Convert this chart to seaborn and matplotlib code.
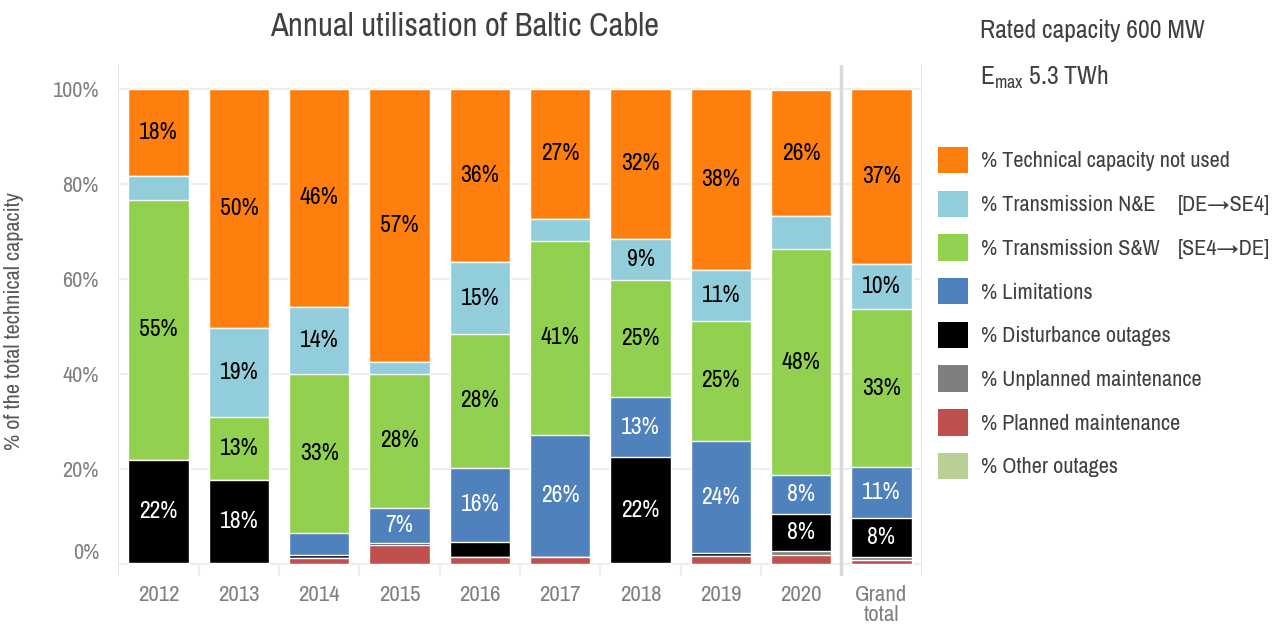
import numpy as np
import pandas as pd
import matplotlib
matplotlib.use("Agg")
import matplotlib.pyplot as plt
import matplotlib.transforms as mtransforms
import seaborn as sns
from matplotlib import font_manager
from matplotlib.patches import Patch

sns.set_theme(style="white")

# look for a narrow face, the reference uses a condensed font
fonts = font_manager.fontManager.ttflist
narrow = None
stretch = "normal"
for f in fonts:
    nm = f.name.lower()
    if "narrow" in nm or "condensed" in nm:
        narrow = f.name
        break
if narrow is None:
    for f in fonts:
        if "condensed" in str(f.stretch).lower() and f.name in ("Noto Sans", "Open Sans", "DejaVu Sans", "Roboto", "Lato", "Inter"):
            narrow = f.name
            stretch = "condensed"
            break
if narrow is None:
    narrow = "Liberation Sans"
plt.rcParams['font.family'] = [narrow, 'DejaVu Sans']
plt.rcParams['font.stretch'] = stretch
plt.rcParams['font.weight'] = 'light'
small = 0 if narrow != "Liberation Sans" else 2

# data (% of technical capacity)
years = ["2012", "2013", "2014", "2015", "2016", "2017", "2018", "2019", "2020", "Grand\ntotal"]
planned = [0.0, 0.0, 1.4, 4.1, 1.5, 1.6, 0.0, 1.75, 2.0, 0.85]
unplanned = [0.2, 0.2, 0.0, 0.0, 0.0, 0.0, 0.2, 0.0, 0.85, 0.7]
disturbance = [21.8, 17.6, 0.6, 0.4, 3.2, 0.0, 22.3, 0.6, 7.7, 8.1]
limitations = [0.0, 0.0, 4.6, 7.4, 15.6, 25.6, 12.6, 23.6, 8.2, 10.8]
trans_sw = [54.6, 13.2, 33.4, 28.1, 28.1, 40.8, 24.6, 25.3, 47.6, 33.2]
trans_ne = [5.1, 18.8, 14.1, 2.6, 15.2, 4.6, 8.7, 10.7, 6.9, 9.6]
other = [0.0] * 10
not_used = [18.3, 50.2, 45.9, 57.4, 36.4, 27.4, 31.6, 38.05, 26.45, 36.75]

# bottom to top
series = [
    ("% Planned maintenance", planned, "#C0504D", "white"),
    ("% Unplanned maintenance", unplanned, "#7F7F7F", "white"),
    ("% Disturbance outages", disturbance, "#000000", "white"),
    ("% Limitations", limitations, "#4F81BD", "white"),
    ("% Transmission S&W", trans_sw, "#92D050", "black"),
    ("% Transmission N&E", trans_ne, "#92CDDC", "black"),
    ("% Other outages", other, "#B8CF95", "black"),
    ("% Technical capacity not used", not_used, "#FF7F0E", "black"),
]

vals = np.array([s[1] for s in series]) / 100.0
cum = vals.cumsum(axis=0)

fig, ax = plt.subplots(figsize=(12.73, 6.25), dpi=100)
fig.subplots_adjust(left=0.093, right=0.724, top=0.896, bottom=0.078)

# stacked bars: draw cumulative totals from the top down
for i in range(len(series) - 1, -1, -1):
    df = pd.DataFrame({"year": years, "value": cum[i]})
    sns.barplot(data=df, x="year", y="value", order=years, color=series[i][2],
                width=0.75, saturation=1, ax=ax, errorbar=None, zorder=2)

# value labels
for i, (name, v, col, tcol) in enumerate(series):
    for j in range(len(years)):
        if v[j] >= 7:
            mid = cum[i][j] - vals[i][j] / 2
            ax.text(j, mid, f"{round(v[j]):.0f}%", ha="center", va="center",
                    color=tcol, fontsize=17 - small, zorder=4)

ax.set_ylim(-0.025, 1.05)
ax.set_xlim(-0.5, 9.5)
ax.set_yticks([0, 0.2, 0.4, 0.6, 0.8, 1.0])
ax.set_yticklabels(["0%", "20%", "40%", "60%", "80%", "100%"])
ax.yaxis.grid(True, color="#eeeeee", linewidth=1.5, zorder=0)
ax.tick_params(axis="y", length=10, color="#eeeeee", width=1.5, labelsize=16 - small, labelcolor="#808080", pad=4)
ax.tick_params(axis="x", length=0, labelsize=16.5 - small, labelcolor="#808080", pad=6)
for lab in ax.get_xticklabels():
    lab.set_linespacing(1.05)
# the 0% label sits a bit above its gridline in the reference
zero = ax.get_yticklabels()[0]
zero.set_transform(zero.get_transform() + mtransforms.ScaledTranslation(0, 0.13, fig.dpi_scale_trans))
for sp in ax.spines.values():
    sp.set_visible(False)

# panel edges, separator and small drop lines
ax.axvline(-0.5, color="#e6e6e6", linewidth=1.5, zorder=1)
ax.axvline(9.5, color="#e6e6e6", linewidth=1.5, zorder=1)
ax.axvline(8.5, color="#d9d9d9", linewidth=2.5, zorder=1)
ax.vlines(np.arange(0.5, 8.5, 1.0), -0.025, 0, color="#eeeeee", linewidth=1.5, zorder=1)

ax.set_xlabel("")
ax.set_ylabel("% of the total technical capacity", fontsize=16 - small, color="#595959")
ax.yaxis.set_label_coords(-0.118, 0.5)

fig.text(0.365, 0.957, "Annual utilisation of Baltic Cable", fontsize=23.5 - small,
         color="#404040", ha="center", va="center")

fig.text(0.77, 0.952, "Rated capacity 600 MW", fontsize=18.5 - small, color="#404040", va="center")
fig.text(0.77, 0.877, r"E$_{\mathregular{max}}$ 5.3 TWh", fontsize=18.5 - small, color="#404040", va="center")

# legend, top to bottom
legend_order = [7, 5, 4, 3, 2, 1, 0, 6]
handles = [Patch(facecolor=series[k][2], edgecolor="none") for k in legend_order]
labels = [series[k][0] for k in legend_order]
leg = fig.legend(handles, labels, loc="upper left", bbox_to_anchor=(0.721, 0.797),
                 frameon=False, fontsize=16 - small, handlelength=1.35, handleheight=1.45,
                 labelspacing=0.78, handletextpad=0.6, labelcolor="#404040")

# direction notes next to the two transmission entries
fig.canvas.draw()
for idx, note in [(1, "[DE\u2192SE4]"), (2, "[SE4\u2192DE]")]:
    bb = leg.get_texts()[idx].get_window_extent()
    yc = fig.transFigure.inverted().transform(((bb.x0 + bb.x1) / 2, (bb.y0 + bb.y1) / 2))[1]
    fig.text(0.925, yc, note, fontsize=16 - small, color="#404040", va="center", ha="left")

fig.savefig("out.png", dpi=100)
